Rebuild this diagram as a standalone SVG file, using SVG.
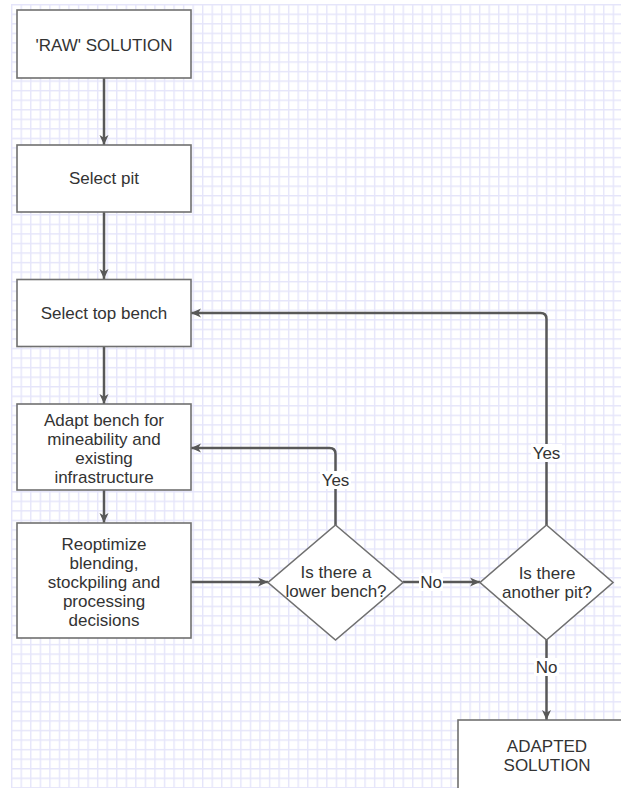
<svg xmlns="http://www.w3.org/2000/svg" width="621" height="788" viewBox="0 0 621 788">
<style>
.node rect, .node polygon { fill: #ffffff; stroke: #707070; stroke-width: 1.6; }
.t { font-family: "Liberation Sans", Arial, sans-serif; font-size: 17px; fill: #333333; text-anchor: middle; }
.edge { fill: none; stroke: #585858; stroke-width: 2.5; }
.arrow { marker-end: url(#ah); }
.lbl { fill: #ffffff; stroke: none; }
</style>
<defs>
<pattern id="grid" x="11" y="4" width="9.55" height="9.55" patternUnits="userSpaceOnUse">
<path d="M0 0.7 H9.55 M0.7 0 V9.55" stroke="#e5e5fa" stroke-width="1.4" fill="none"/>
</pattern>
<marker id="ah" markerUnits="userSpaceOnUse" markerWidth="12" markerHeight="10" refX="10" refY="5" orient="auto">
<path d="M0 0.5 L10 5 L0 9.5 L2.8 5 Z" fill="#585858"/>
</marker>
</defs>
<rect x="0" y="0" width="621" height="788" fill="#ffffff"/>
<rect x="11" y="4" width="610" height="784" fill="url(#grid)"/>

<g id="connectors">
<path class="edge arrow" d="M104 78 V145"/>
<path class="edge arrow" d="M104 212 V279"/>
<path class="edge arrow" d="M104 347 V404"/>
<path class="edge arrow" d="M104 490 V523"/>
<path class="edge arrow" d="M191 582 H268"/>
<path class="edge arrow" d="M403 582 H480"/>
<path class="edge arrow" d="M546.5 640 V720"/>
<path class="edge arrow" d="M546.5 525 V319 Q546.5 313 540.5 313 H191"/>
<path class="edge arrow" d="M335.5 525 V454 Q335.5 448 329.5 448 H191"/>
<rect class="lbl" x="419" y="573" width="24" height="18"/>
<text class="t" x="431" y="588">No</text>
<rect class="lbl" x="534" y="658" width="25" height="18"/>
<text class="t" x="546.5" y="673">No</text>
<rect class="lbl" x="531" y="444" width="31" height="18"/>
<text class="t" x="546.5" y="459">Yes</text>
<rect class="lbl" x="320" y="471" width="31" height="18"/>
<text class="t" x="335.5" y="486">Yes</text>
</g>

<g id="raw" class="node">
<rect x="17" y="10" width="174" height="68"/>
<text class="t" x="104" y="50.5">'RAW' SOLUTION</text>
</g>
<g id="selectpit" class="node">
<rect x="17" y="145" width="174" height="67"/>
<text class="t" x="104" y="184">Select pit</text>
</g>
<g id="topbench" class="node">
<rect x="17" y="279.5" width="174" height="67"/>
<text class="t" x="104" y="319">Select top bench</text>
</g>
<g id="adapt" class="node">
<rect x="17" y="404" width="174" height="86"/>
<text class="t" x="104" y="425.5">Adapt bench for</text>
<text class="t" x="104" y="444.8">mineability and</text>
<text class="t" x="104" y="464.1">existing</text>
<text class="t" x="104" y="483.4">infrastructure</text>
</g>
<g id="reopt" class="node">
<rect x="17" y="523" width="174" height="115"/>
<text class="t" x="104" y="549.5">Reoptimize</text>
<text class="t" x="104" y="568.7">blending,</text>
<text class="t" x="104" y="587.9">stockpiling and</text>
<text class="t" x="104" y="607.1">processing</text>
<text class="t" x="104" y="626.3">decisions</text>
</g>
<g id="lowerbench" class="node">
<polygon points="335.5,525 403,582.5 335.5,640 268,582.5"/>
<text class="t" x="336" y="577.5">Is there a</text>
<text class="t" x="336" y="596.5">lower bench?</text>
</g>
<g id="anotherpit" class="node">
<polygon points="546.5,525 613,582.5 546.5,640 480,582.5"/>
<text class="t" x="547" y="578.5">Is there</text>
<text class="t" x="547" y="597.5">another pit?</text>
</g>
<g id="adapted" class="node">
<rect x="458" y="720" width="178" height="72"/>
<text class="t" x="547" y="752">ADAPTED</text>
<text class="t" x="547" y="771">SOLUTION</text>
</g>
</svg>
